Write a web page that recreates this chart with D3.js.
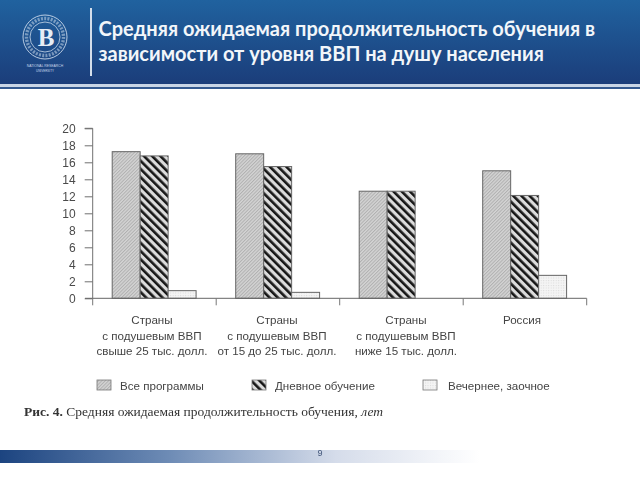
<!DOCTYPE html>
<html><head><meta charset="utf-8">
<script src="https://cdn.jsdelivr.net/npm/d3@7"></script>
<style>html,body{margin:0;padding:0;background:#fff;overflow:hidden}svg{display:block;filter:blur(0.35px)}</style>
</head><body><svg id="c" width="640" height="480"></svg>
<script>
const titleLines = ["Средняя ожидаемая продолжительность обучения в", "зависимости от уровня ВВП на душу населения"];
const categories = ["g1", "g2", "g3", "g4"];
const categoryLabels = [
  ["Страны", "с подушевым ВВП", "свыше 25 тыс. долл."],
  ["Страны", "с подушевым ВВП", "от 15 до 25 тыс. долл."],
  ["Страны", "с подушевым ВВП", "ниже 15 тыс. долл."],
  ["Россия"]
];
const seriesNames = ["Все программы", "Дневное обучение", "Вечернее, заочное"];
const allPrograms = [17.25, 17.0, 12.6, 15.0];
const fullTime = [16.75, 15.5, 12.6, 12.1];
const eveningPartTime = [0.9, 0.7, null, 2.7];
const yTicks = [0, 2, 4, 6, 8, 10, 12, 14, 16, 18, 20];
const caption = "Средняя ожидаемая продолжительность обучения, ";
const pageNumber = "9";

const svg = d3.select("#c");
const defs = svg.append("defs");

const headerGrad = defs.append("linearGradient").attr("id", "hdr").attr("x1", 0).attr("y1", 0).attr("x2", 0).attr("y2", 1);
headerGrad.append("stop").attr("offset", 0).attr("stop-color", "#20629f");
headerGrad.append("stop").attr("offset", 1).attr("stop-color", "#1b3d7a");
const footGrad = defs.append("linearGradient").attr("id", "ftr");
footGrad.append("stop").attr("offset", 0).attr("stop-color", "#1c4480");
footGrad.append("stop").attr("offset", 0.35).attr("stop-color", "#6d8bb5");
footGrad.append("stop").attr("offset", 0.7).attr("stop-color", "#d5dcea");
footGrad.append("stop").attr("offset", 1).attr("stop-color", "#ffffff");

const pGrey = defs.append("pattern").attr("id", "pGrey").attr("width", 2.4).attr("height", 2.4).attr("patternUnits", "userSpaceOnUse").attr("patternTransform", "rotate(45)");
pGrey.append("rect").attr("width", 2.4).attr("height", 2.4).attr("fill", "#d4d4d4");
pGrey.append("rect").attr("width", 1).attr("height", 2.4).attr("fill", "#b0b0b0");
const pHatch = defs.append("pattern").attr("id", "pHatch").attr("width", 5.8).attr("height", 5.8).attr("patternUnits", "userSpaceOnUse").attr("patternTransform", "rotate(-45)");
pHatch.append("rect").attr("width", 5.8).attr("height", 5.8).attr("fill", "#dcdcdc");
pHatch.append("rect").attr("width", 2.6).attr("height", 5.8).attr("fill", "#161616");
const pDots = defs.append("pattern").attr("id", "pDots").attr("width", 2.5).attr("height", 2.5).attr("patternUnits", "userSpaceOnUse");
pDots.append("rect").attr("width", 2.5).attr("height", 2.5).attr("fill", "#f4f4f4");
pDots.append("rect").attr("width", 1).attr("height", 1).attr("fill", "#dadada");
const fills = ["url(#pGrey)", "url(#pHatch)", "url(#pDots)"];

// Header band
svg.append("rect").attr("width", 640).attr("height", 84).attr("fill", "url(#hdr)");
svg.append("rect").attr("y", 84).attr("width", 640).attr("height", 3).attr("fill", "#c9d5e6");
svg.append("rect").attr("y", 87).attr("width", 640).attr("height", 2).attr("fill", "#33588f");
svg.append("rect").attr("x", 90).attr("y", 8).attr("width", 2).attr("height", 68).attr("fill", "#d4deeb");

// Logo: the ring lettering is illegible in the source, so it is drawn as a dashed band
const logo = svg.append("g").attr("transform", "translate(45,37)").attr("fill", "none").attr("stroke", "#c9d8ea");
logo.append("circle").attr("r", 22).attr("stroke-width", 0.9);
logo.append("circle").attr("r", 15).attr("stroke-width", 0.8);
logo.append("circle").attr("r", 18.5).attr("stroke-width", 3.4).attr("stroke-dasharray", "2 1.3").attr("opacity", 0.55);
svg.append("text").attr("x", 46).attr("y", 46).attr("text-anchor", "middle")
  .attr("font-family", "Liberation Serif").attr("font-weight", "bold").attr("font-size", 25).attr("fill", "#e6edf5").text("В");
svg.append("text").attr("x", 45).attr("y", 67).attr("text-anchor", "middle").attr("font-family", "Liberation Sans").attr("font-size", 3.4).attr("fill", "#c9d8ea").text("NATIONAL RESEARCH");
svg.append("text").attr("x", 45).attr("y", 72).attr("text-anchor", "middle").attr("font-family", "Liberation Sans").attr("font-size", 3).attr("fill", "#c9d8ea").text("UNIVERSITY");

// Title
svg.append("g").selectAll("text").data(titleLines).join("text")
  .attr("x", 98.5).attr("y", (d, i) => 36 + i * 25)
  .attr("font-family", "Lato, 'Open Sans', sans-serif").attr("font-weight", "bold").attr("font-size", 20).attr("fill", "#f2f6fa").text(d => d);

// Scales
const x0 = d3.scaleBand().domain(categories).range([92.7, 586.7]);
const x1 = d3.scaleBand().domain(seriesNames).range([19.5, 103.4]);
const y = d3.scaleLinear().domain([0, 20]).range([298.3, 128.3]);
const series = [allPrograms, fullTime, eveningPartTime];
const chartFont = "'Liberation Sans', Arial, sans-serif";

// Bars
const groups = svg.append("g").selectAll("g").data(categories).join("g")
  .attr("transform", d => `translate(${x0(d)},0)`);
groups.selectAll("rect")
  .data((d, i) => seriesNames.map((name, s) => ({ name, s, v: series[s][i] })).filter(b => b.v !== null))
  .join("rect")
  .attr("x", b => x1(b.name)).attr("width", x1.bandwidth())
  .attr("y", b => y(b.v)).attr("height", b => y(0) - y(b.v))
  .attr("fill", b => fills[b.s]).attr("stroke", "#666").attr("stroke-width", 1);

// Y axis
const yAxis = svg.append("g").attr("transform", "translate(92.7,0)")
  .call(d3.axisLeft(y).tickValues(yTicks).tickSize(8).tickPadding(9));
yAxis.select(".domain").attr("stroke", "#707070").attr("d", `M-8,${y(20)}H0V${y(0)}`);
yAxis.selectAll("line").attr("stroke", "#707070");
yAxis.selectAll("text").attr("font-family", chartFont).attr("font-size", 12).attr("fill", "#4a4a4a");

// X axis
svg.append("line").attr("x1", 85).attr("x2", 586.7).attr("y1", y(0)).attr("y2", y(0)).attr("stroke", "#666");
const xEdges = categories.map(c => x0(c)).concat([x0.range()[1]]);
svg.append("g").selectAll("line").data(xEdges).join("line")
  .attr("x1", d => d).attr("x2", d => d).attr("y1", y(0)).attr("y2", y(0) + 7).attr("stroke", "#777");

// Category labels (the source centres them a little off the band centres)
const labelShift = [-2.5, -1, 4.5, -3];
const lab = svg.append("g").selectAll("g").data(categories).join("g");
lab.selectAll("text").data((d, i) => categoryLabels[i].map((t, j) => ({ t, j, c: d, i }))).join("text")
  .attr("x", d => x0(d.c) + x0.bandwidth() / 2 + labelShift[d.i]).attr("y", d => 324 + d.j * 15.7)
  .attr("text-anchor", "middle").attr("font-family", chartFont).attr("font-size", 11.6).attr("fill", "#444").text(d => d.t);

// Legend
const legendX = [97, 252, 423];
const leg = svg.append("g").selectAll("g").data(seriesNames).join("g");
leg.append("rect").attr("x", (d, i) => legendX[i]).attr("y", 380).attr("width", 14).attr("height", 10)
  .attr("fill", (d, i) => fills[i]).attr("stroke", "#777").attr("stroke-width", 0.8);
leg.append("text").attr("x", (d, i) => legendX[i] + [23, 23, 25][i]).attr("y", 389.5)
  .attr("font-family", chartFont).attr("font-size", 11.6).attr("fill", "#444").text(d => d);

// Caption
const cap = svg.append("text").attr("x", 24).attr("y", 416).attr("font-family", "'Liberation Serif', serif").attr("font-size", 13.5).attr("fill", "#333");
cap.append("tspan").attr("font-weight", "bold").text("Рис. 4. ");
cap.append("tspan").text(caption);
cap.append("tspan").attr("font-style", "italic").text("лет");

// Footer
svg.append("rect").attr("y", 450).attr("width", 480).attr("height", 13).attr("fill", "url(#ftr)");
svg.append("text").attr("x", 320).attr("y", 456).attr("text-anchor", "middle").attr("font-family", chartFont).attr("font-size", 9).attr("fill", "#44587c").text(pageNumber);
</script></body></html>
